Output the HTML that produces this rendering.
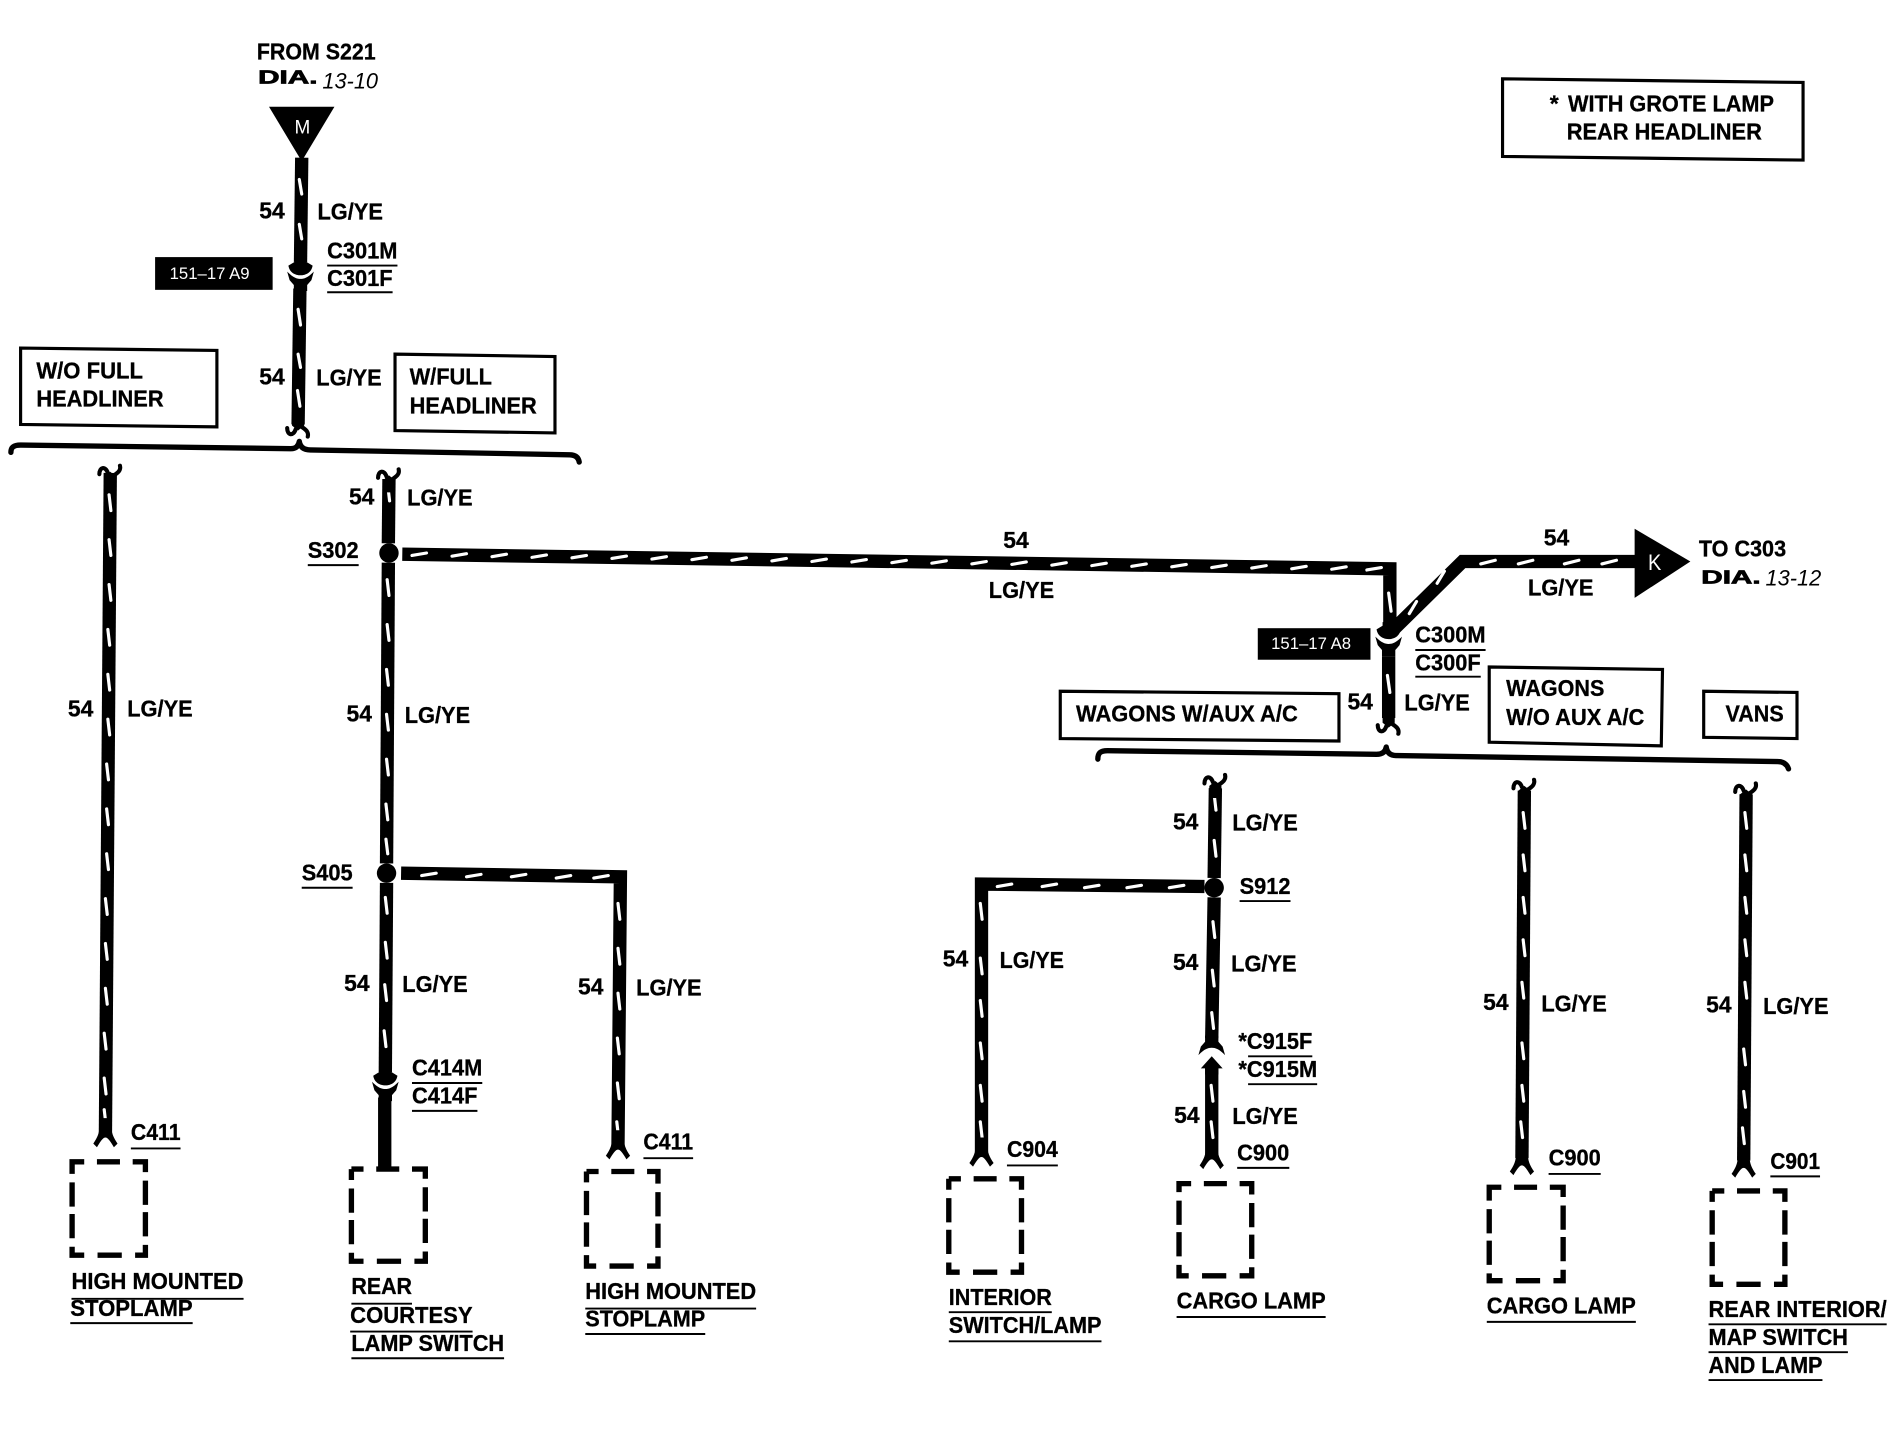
<!DOCTYPE html>
<html>
<head>
<meta charset="utf-8">
<title>Wiring diagram</title>
<style>
html,body{margin:0;padding:0;background:#fff}
svg{display:block}
text{font-family:"Liberation Sans",Arial,sans-serif;font-weight:bold;font-size:19px;fill:#000;stroke:#000;stroke-width:.25}
.w{font-size:14px;fill:#fff;stroke:none;font-weight:normal}
.i{font-style:italic;font-weight:normal;font-size:18px;stroke:none}
.d{font-size:15px;stroke:#000;stroke-width:.6}
.wire{fill:none;stroke:#000;stroke-width:11;stroke-linejoin:miter}
.tick{fill:none;stroke:#fff;stroke-width:2.6;stroke-linecap:round}
.ul{fill:none;stroke:#000;stroke-width:1.6}
.bx{fill:none;stroke:#000;stroke-width:2.6}
.lamp{fill:none;stroke:#000;stroke-width:4.4;stroke-dasharray:10 10.5 19 10.5 19 7 20 6 20 7 17 11 20 11 17 7 20 6 20 7 9 0}
.br{fill:none;stroke:#000;stroke-width:4.4;stroke-linejoin:round;stroke-linecap:round}
.cu{fill:none;stroke:#000;stroke-width:3.4;stroke-linecap:round}
</style>
</head>
<body>
<svg xmlns="http://www.w3.org/2000/svg" width="1900" height="1440" viewBox="0 0 1568 1187.4" preserveAspectRatio="none">
<defs>
<path id="fork" d="M-10,9 C-6,3 -4,-1 -5,-12 L5,-12 C4,-1 6,3 10,9 L7,12 C4,7 2,4 0,4 C-2,4 -4,7 -7,12 Z"/>
<g id="curl">
<path d="M-5,10 L5,10 L5,0 L0,-4 L-5,0 Z"/>
<path class="cu" d="M-9,-2 C-9,-8 -4,-9 -2,-3 L0,0"/>
<path class="cu" d="M8,-9 C9,-5 6,-3 3,-1"/>
</g>
<path id="male" d="M-10,-3 L-5,-6 L-5,-9 L5,-9 L5,-6 L10,-3 C9,3 4,5 0,5 C-4,5 -9,3 -10,-3 Z"/>
<path id="female" d="M-11,-2 C-6,3 -3,4 0,4 C3,4 6,3 11,-2 L9,5 L5.500,9 L5.500,14 L-5.500,14 L-5.500,9 L-9,5 Z"/>
</defs>

<!-- wires -->
<g class="wire">
<path d="M249,130 L248,216"/>
<path d="M247.500,238 L246,350"/>
<path d="M91,390 L87,935"/>
<path d="M321,395 L320.500,448"/>
<path d="M320.500,464 L319,712"/>
<path d="M319,728 L318,884"/>
<path d="M317.500,905 L317.500,965"/>
<path d="M332,457 L1147,469 L1147,518"/>
<path d="M1147,522 L1207,463 L1350,463"/>
<path d="M1146,541 L1146,592"/>
<path d="M331,720 L512,723 L510,945"/>
<path d="M1003,650 L1002,724"/>
<path d="M1002,740 L1000,856"/>
<path d="M1000,880 L1000,952"/>
<path d="M994,731 L810,729 L810,950"/>
<path d="M1258,652 L1256,955"/>
<path d="M1441,655 L1439,957"/>
</g>

<!-- white ticks -->
<path class="tick" d="
M247,148 l2,12 M247,185 l2,12 M246,255 l2,13 M246,292 l2,11 M245.500,322 l2,13
M90,408 l1.500,13 M90,445 l1.500,13 M90,482 l1.500,13 M89,519 l1.500,13 M89,556 l1.500,13 M89,593 l1.500,13 M88,630 l1.500,13 M88,667 l1.500,13 M88,704 l1.500,13 M87,741 l1.500,13 M87,778 l1.500,13 M87,815 l1.500,13 M86,852 l1.500,13 M86,889 l1.500,13 M86,915 l1.500,13
M320,400 l1.500,13
M319.500,478 l1.500,13 M319.500,515 l1.500,13 M319,552 l1.500,13 M319,589 l1.500,13 M319,626 l1.500,13 M318.500,663 l1.500,13 M318.500,692 l1.500,12
M318,740 l1.500,13 M318,777 l1.500,13 M317.500,812 l1.500,13 M317,850 l1.500,13
M510,745 l1.500,13 M510,782 l1.500,13 M510,819 l1.500,13 M509.500,856 l1.500,13 M509.500,893 l1.500,13 M509,925 l1.500,13
M348,722 l12,-2 M385,723 l12,-2 M422,723 l12,-2 M459,724 l12,-2 M490,724 l12,-2
M340,458 l12,-2 M373,458.600 l12,-2 M406,459 l12,-2 M439,459.600 l12,-2 M472,460 l12,-2 M505,460.500 l12,-2 M538,461 l12,-2 M571,461.500 l12,-2 M604,462 l12,-2 M637,462.500 l12,-2 M670,463 l12,-2 M703,463.400 l12,-2 M736,464 l12,-2 M769,464.400 l12,-2 M802,465 l12,-2 M835,465.400 l12,-2 M868,466 l12,-2 M901,466.400 l12,-2 M934,467 l12,-2 M967,467.400 l12,-2 M1000,468 l12,-2 M1033,468.400 l12,-2 M1066,469 l12,-2 M1099,469.400 l12,-2 M1128,470 l12,-2
M1146,489 l2,15
M1163,506 l6,-10 M1186,481 l6,-10
M1222,465 l12,-3 M1253,465 l12,-3 M1291,465 l12,-3 M1322,465 l12,-3
M1145,557 l2,14
M1002,655 l1.500,13 M1002,693 l1.500,13
M1001,760 l1.500,13 M1000.500,800 l1.500,13 M1000,835 l1.500,13
M999.500,895 l1.500,13 M999.500,925 l1.500,13
M823,731 l12,-2 M860,731 l12,-2 M895,732 l12,-2 M930,732 l12,-2 M965,732 l12,-2
M809,745 l1.500,13 M809,790 l1.500,13 M809,825 l1.500,13 M809,860 l1.500,13 M809,895 l1.500,13 M809,925 l1.500,13
M1257,670 l1.500,13 M1257,705 l1.500,13 M1257,740 l1.500,13 M1257,775 l1.500,13 M1256,810 l1.500,13 M1256,860 l1.500,13 M1256,895 l1.500,13 M1255,925 l1.500,13
M1440,670 l1.500,13 M1440,705 l1.500,13 M1440,740 l1.500,13 M1440,775 l1.500,13 M1440,810 l1.500,13 M1439,865 l1.500,13 M1439,900 l1.500,13 M1438,930 l1.500,13
"/>

<!-- triangles -->
<path d="M222,88 L276,88 L249,133 Z"/>
<path d="M1349,436 L1395,463 L1349,493 Z"/>
<text class="w" x="243" y="110" textLength="13" lengthAdjust="spacingAndGlyphs" style="font-size:16px">M</text>
<text class="w" x="1360" y="470" textLength="11" lengthAdjust="spacingAndGlyphs" style="font-size:18px">K</text>

<!-- connectors -->
<use href="#male" x="248" y="222"/>
<use href="#female" x="248" y="226"/>
<use href="#male" x="1146" y="522"/>
<use href="#female" x="1146" y="527"/>
<use href="#male" x="318" y="890"/>
<use href="#female" x="318" y="894"/>
<use href="#female" transform="translate(1000,868) scale(1,-1)"/>
<path d="M1000,871 L1009,881 L1005.500,881 L1005.500,886 L994.500,886 L994.500,881 L991,881 Z"/>

<!-- forks -->
<use href="#fork" x="87" y="934"/>
<use href="#fork" x="510" y="944"/>
<use href="#fork" x="810" y="950"/>
<use href="#fork" x="1000" y="952"/>
<use href="#fork" x="1256" y="957"/>
<use href="#fork" x="1439" y="959"/>

<!-- curls -->
<use href="#curl" transform="translate(246,351) scale(1,-1)"/>
<use href="#curl" transform="translate(1146,596) scale(1,-1)"/>
<use href="#curl" x="91" y="393"/>
<use href="#curl" x="321" y="396"/>
<use href="#curl" x="1003" y="648"/>
<use href="#curl" x="1258" y="652"/>
<use href="#curl" x="1441" y="655"/>

<!-- splices -->
<circle cx="321" cy="456" r="8"/>
<circle cx="319" cy="720" r="8"/>
<circle cx="1002" cy="732" r="8"/>

<!-- braces -->
<path class="br" d="M9,373 C9,369 11,367 17,367 L240,370 Q246,370 247,364 Q248,371 256,371 L470,375 Q477,375 478,381"/>
<path class="br" d="M906,626 C906,621 908,619 914,619 L1136,622 Q1143,622 1144,616 Q1145,623 1152,623 L1467,628 Q1474,628 1476,634"/>

<!-- boxes -->
<g class="bx">
<path d="M1240,65 L1488,68 L1488,132 L1240,129 Z"/>
<path d="M17,287 L179,289 L179,352 L17,350 Z"/>
<path d="M326,292 L458,294 L458,357 L326,355 Z"/>
<path d="M875,570 L1105,572 L1105,611 L875,609 Z"/>
<path d="M1229,550 L1372,552 L1371,615 L1229,612 Z"/>
<path d="M1406,570 L1483,571 L1483,609 L1406,608 Z"/>
</g>

<!-- lamps -->
<g class="lamp">
<rect x="59.500" y="958" width="60.500" height="77"/>
<rect x="290" y="964" width="61" height="76"/>
<rect x="484" y="966" width="59" height="78"/>
<rect x="783" y="972" width="60" height="77"/>
<rect x="973" y="976" width="60" height="76"/>
<rect x="1229" y="979" width="61" height="77"/>
<rect x="1413" y="982" width="60" height="77"/>
</g>

<!-- black reference tags -->
<rect x="128" y="212" width="97" height="27"/>
<rect x="1038" y="518" width="93" height="26"/>
<text class="w" x="140" y="230" textLength="66" lengthAdjust="spacingAndGlyphs">151–17 A9</text>
<text class="w" x="1049" y="535" textLength="66" lengthAdjust="spacingAndGlyphs">151–17 A8</text>

<!-- underlines -->
<path class="ul" d="M270,219 H328 M270,241 H324 M254,466 H296 M249,732 H291 M340,893 H398 M340,916 H394 M108,947 H149 M531,955 H572
M59,1071 H201 M58,1091 H159 M290,1075 H340 M289,1098 H390 M290,1120 H416 M483,1079 H624 M483,1100 H582
M1168,536 H1226 M1168,558 H1222 M1023,743 H1065 M1030,871 H1083 M1030,894 H1087 M1021,963 H1064 M831,961 H873
M783,1082 H868 M783,1106 H909 M971,1086 H1094 M1278,968 H1321 M1461,970 H1502 M1227,1090 H1350
M1410,1092 H1557 M1410,1115 H1525 M1410,1138 H1504"/>

<!-- top labels -->
<text x="212" y="49" textLength="98" lengthAdjust="spacingAndGlyphs">FROM S221</text>
<text class="d" x="213" y="69" textLength="49" lengthAdjust="spacingAndGlyphs">DIA.</text>
<text class="i" x="266" y="73" textLength="46" lengthAdjust="spacingAndGlyphs">13-10</text>
<text x="1279" y="92">*</text>
<text x="1294" y="92" textLength="170" lengthAdjust="spacingAndGlyphs">WITH GROTE LAMP</text>
<text x="1293" y="115" textLength="161" lengthAdjust="spacingAndGlyphs">REAR HEADLINER</text>
<text x="1402" y="459" textLength="72" lengthAdjust="spacingAndGlyphs">TO C303</text>
<text class="d" x="1404" y="481" textLength="49" lengthAdjust="spacingAndGlyphs">DIA.</text>
<text class="i" x="1457" y="483" textLength="46" lengthAdjust="spacingAndGlyphs">13-12</text>

<!-- box labels -->
<text x="30" y="312" textLength="88" lengthAdjust="spacingAndGlyphs">W/O FULL</text>
<text x="30" y="335" textLength="105" lengthAdjust="spacingAndGlyphs">HEADLINER</text>
<text x="338" y="317" textLength="68" lengthAdjust="spacingAndGlyphs">W/FULL</text>
<text x="338" y="341" textLength="105" lengthAdjust="spacingAndGlyphs">HEADLINER</text>
<text x="888" y="595" textLength="183" lengthAdjust="spacingAndGlyphs">WAGONS W/AUX A/C</text>
<text x="1243" y="574" textLength="81" lengthAdjust="spacingAndGlyphs">WAGONS</text>
<text x="1243" y="598" textLength="114" lengthAdjust="spacingAndGlyphs">W/O AUX A/C</text>
<text x="1424" y="595" textLength="48" lengthAdjust="spacingAndGlyphs">VANS</text>

<!-- connector labels -->
<text x="270" y="213" textLength="58" lengthAdjust="spacingAndGlyphs">C301M</text>
<text x="270" y="236" textLength="54" lengthAdjust="spacingAndGlyphs">C301F</text>
<text x="254" y="460" textLength="42" lengthAdjust="spacingAndGlyphs">S302</text>
<text x="249" y="726" textLength="42" lengthAdjust="spacingAndGlyphs">S405</text>
<text x="340" y="887" textLength="58" lengthAdjust="spacingAndGlyphs">C414M</text>
<text x="340" y="910" textLength="54" lengthAdjust="spacingAndGlyphs">C414F</text>
<text x="108" y="940" textLength="41" lengthAdjust="spacingAndGlyphs">C411</text>
<text x="531" y="948" textLength="41" lengthAdjust="spacingAndGlyphs">C411</text>
<text x="1168" y="530" textLength="58" lengthAdjust="spacingAndGlyphs">C300M</text>
<text x="1168" y="553" textLength="54" lengthAdjust="spacingAndGlyphs">C300F</text>
<text x="1023" y="737" textLength="42" lengthAdjust="spacingAndGlyphs">S912</text>
<text x="1022" y="865" textLength="61" lengthAdjust="spacingAndGlyphs">*C915F</text>
<text x="1022" y="888" textLength="65" lengthAdjust="spacingAndGlyphs">*C915M</text>
<text x="1021" y="957" textLength="43" lengthAdjust="spacingAndGlyphs">C900</text>
<text x="831" y="954" textLength="42" lengthAdjust="spacingAndGlyphs">C904</text>
<text x="1278" y="961" textLength="43" lengthAdjust="spacingAndGlyphs">C900</text>
<text x="1461" y="964" textLength="41" lengthAdjust="spacingAndGlyphs">C901</text>

<!-- component labels -->
<text x="59" y="1063" textLength="142" lengthAdjust="spacingAndGlyphs">HIGH MOUNTED</text>
<text x="58" y="1085" textLength="101" lengthAdjust="spacingAndGlyphs">STOPLAMP</text>
<text x="290" y="1067" textLength="50" lengthAdjust="spacingAndGlyphs">REAR</text>
<text x="289" y="1091" textLength="101" lengthAdjust="spacingAndGlyphs">COURTESY</text>
<text x="290" y="1114" textLength="126" lengthAdjust="spacingAndGlyphs">LAMP SWITCH</text>
<text x="483" y="1071" textLength="141" lengthAdjust="spacingAndGlyphs">HIGH MOUNTED</text>
<text x="483" y="1094" textLength="99" lengthAdjust="spacingAndGlyphs">STOPLAMP</text>
<text x="783" y="1076" textLength="85" lengthAdjust="spacingAndGlyphs">INTERIOR</text>
<text x="783" y="1099" textLength="126" lengthAdjust="spacingAndGlyphs">SWITCH/LAMP</text>
<text x="971" y="1079" textLength="123" lengthAdjust="spacingAndGlyphs">CARGO LAMP</text>
<text x="1227" y="1083" textLength="123" lengthAdjust="spacingAndGlyphs">CARGO LAMP</text>
<text x="1410" y="1086" textLength="147" lengthAdjust="spacingAndGlyphs">REAR INTERIOR/</text>
<text x="1410" y="1109" textLength="115" lengthAdjust="spacingAndGlyphs">MAP SWITCH</text>
<text x="1410" y="1132" textLength="94" lengthAdjust="spacingAndGlyphs">AND LAMP</text>

<!-- wire numbers -->
<text x="214" y="180" textLength="21" lengthAdjust="spacingAndGlyphs">54</text>
<text x="214" y="317" textLength="21" lengthAdjust="spacingAndGlyphs">54</text>
<text x="56" y="591" textLength="21" lengthAdjust="spacingAndGlyphs">54</text>
<text x="288" y="416" textLength="21" lengthAdjust="spacingAndGlyphs">54</text>
<text x="286" y="595" textLength="21" lengthAdjust="spacingAndGlyphs">54</text>
<text x="284" y="817" textLength="21" lengthAdjust="spacingAndGlyphs">54</text>
<text x="477" y="820" textLength="21" lengthAdjust="spacingAndGlyphs">54</text>
<text x="828" y="452" textLength="21" lengthAdjust="spacingAndGlyphs">54</text>
<text x="1274" y="450" textLength="21" lengthAdjust="spacingAndGlyphs">54</text>
<text x="1112" y="585" textLength="21" lengthAdjust="spacingAndGlyphs">54</text>
<text x="968" y="684" textLength="21" lengthAdjust="spacingAndGlyphs">54</text>
<text x="778" y="797" textLength="21" lengthAdjust="spacingAndGlyphs">54</text>
<text x="968" y="800" textLength="21" lengthAdjust="spacingAndGlyphs">54</text>
<text x="969" y="926" textLength="21" lengthAdjust="spacingAndGlyphs">54</text>
<text x="1224" y="833" textLength="21" lengthAdjust="spacingAndGlyphs">54</text>
<text x="1408" y="835" textLength="21" lengthAdjust="spacingAndGlyphs">54</text>

<!-- wire colours -->
<text x="262" y="181" textLength="54" lengthAdjust="spacingAndGlyphs">LG/YE</text>
<text x="261" y="318" textLength="54" lengthAdjust="spacingAndGlyphs">LG/YE</text>
<text x="105" y="591" textLength="54" lengthAdjust="spacingAndGlyphs">LG/YE</text>
<text x="336" y="417" textLength="54" lengthAdjust="spacingAndGlyphs">LG/YE</text>
<text x="334" y="596" textLength="54" lengthAdjust="spacingAndGlyphs">LG/YE</text>
<text x="332" y="818" textLength="54" lengthAdjust="spacingAndGlyphs">LG/YE</text>
<text x="525" y="821" textLength="54" lengthAdjust="spacingAndGlyphs">LG/YE</text>
<text x="816" y="493" textLength="54" lengthAdjust="spacingAndGlyphs">LG/YE</text>
<text x="1261" y="491" textLength="54" lengthAdjust="spacingAndGlyphs">LG/YE</text>
<text x="1159" y="586" textLength="54" lengthAdjust="spacingAndGlyphs">LG/YE</text>
<text x="1017" y="685" textLength="54" lengthAdjust="spacingAndGlyphs">LG/YE</text>
<text x="825" y="798" textLength="53" lengthAdjust="spacingAndGlyphs">LG/YE</text>
<text x="1016" y="801" textLength="54" lengthAdjust="spacingAndGlyphs">LG/YE</text>
<text x="1017" y="927" textLength="54" lengthAdjust="spacingAndGlyphs">LG/YE</text>
<text x="1272" y="834" textLength="54" lengthAdjust="spacingAndGlyphs">LG/YE</text>
<text x="1455" y="836" textLength="54" lengthAdjust="spacingAndGlyphs">LG/YE</text>
</svg>
</body>
</html>
